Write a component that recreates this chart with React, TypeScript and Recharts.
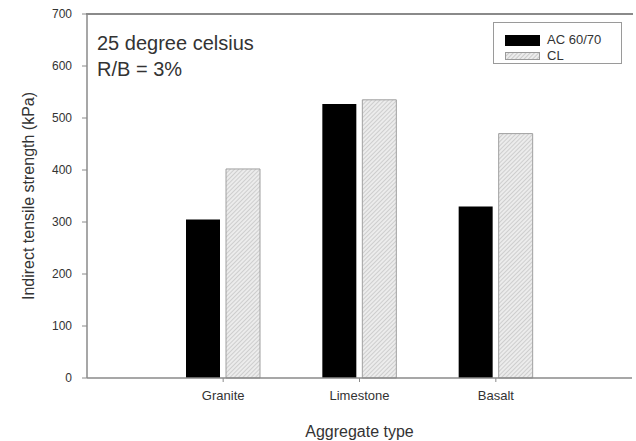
import React from 'react';
import { BarChart, Bar, XAxis, YAxis } from 'recharts';

const categories = ['Granite', 'Limestone', 'Basalt'];
const acValues = [305, 527, 330];
const clValues = [402, 535, 470];
const yTicks = [0, 100, 200, 300, 400, 500, 600, 700];
const seriesNames = ['AC 60/70', 'CL'];

const data = categories.map((c, i) => ({ name: c, ac: acValues[i], cl: clValues[i] }));

const FONT = 'Liberation Sans, Arial, sans-serif';
const AXIS = '#8a8a8a';

const HatchSwatch = ({ w, h }: { w: number; h: number }) => (
  <svg width={w} height={h} style={{ display: 'block' }}>
    <defs>
      <pattern id="hatchLegend" patternUnits="userSpaceOnUse" width="3" height="3" patternTransform="rotate(45)">
        <rect width="3" height="3" fill="#ececec" />
        <line x1="0" y1="0" x2="0" y2="3" stroke="#a8a8a8" strokeWidth="1" />
      </pattern>
    </defs>
    <rect x={0.5} y={0.5} width={w - 1} height={h - 1} fill="url(#hatchLegend)" stroke="#9a9a9a" />
  </svg>
);

const LegendBox = () => (
  <div
    style={{
      position: 'absolute',
      left: 493,
      top: 22,
      width: 129,
      height: 42,
      border: '1.5px solid #9a9a9a',
      boxSizing: 'border-box',
      background: '#fff',
      fontFamily: FONT,
      fontSize: 13,
      color: '#333',
    }}
  >
    <div style={{ position: 'absolute', left: 11, top: 12, width: 35, height: 11, background: '#000' }} />
    <div style={{ position: 'absolute', left: 53, top: 9, lineHeight: '15px' }}>{seriesNames[0]}</div>
    <div style={{ position: 'absolute', left: 11, top: 29 }}>
      <HatchSwatch w={35} h={8} />
    </div>
    <div style={{ position: 'absolute', left: 53, top: 25, lineHeight: '15px' }}>{seriesNames[1]}</div>
  </div>
);

export default function App() {
  return (
    <div style={{ position: 'absolute', left: 0, top: 0, width: 636, height: 441, background: '#fff' }}>
      <BarChart
        width={636}
        height={441}
        data={data}
        margin={{ top: 14, right: 4, bottom: 0, left: 0 }}
        barSize={34}
        barGap={6}
      >
        <defs>
          <pattern id="hatch" patternUnits="userSpaceOnUse" width="3" height="3" patternTransform="rotate(45)">
            <rect width="3" height="3" fill="#ececec" />
            <line x1="0" y1="0" x2="0" y2="3" stroke="#b0b0b0" strokeWidth="1" />
          </pattern>
        </defs>
        <XAxis
          dataKey="name"
          type="category"
          padding={{ left: 68, right: 68 }}
          height={63}
          tickSize={4}
          tickMargin={9}
          tick={{ fontSize: 13, fill: '#333', fontFamily: FONT }}
          axisLine={{ stroke: AXIS, strokeWidth: 1.5 }}
          tickLine={{ stroke: AXIS }}
          label={{ value: 'Aggregate type', position: 'insideBottom', offset: 4, fontSize: 16, fill: '#333', fontFamily: FONT }}
        />
        <YAxis
          type="number"
          domain={[0, 700]}
          ticks={yTicks}
          width={87}
          tickSize={5}
          tickMargin={10}
          tick={{ fontSize: 12, fill: '#333', fontFamily: FONT }}
          axisLine={{ stroke: AXIS, strokeWidth: 1.5 }}
          tickLine={{ stroke: AXIS }}
          label={{
            value: 'Indirect tensile strength (kPa)',
            angle: -90,
            position: 'insideLeft',
            offset: 28,
            fontSize: 16,
            fill: '#333',
            fontFamily: FONT,
            style: { textAnchor: 'middle' },
          }}
        />
        <YAxis
          yAxisId="right"
          orientation="right"
          domain={[0, 700]}
          width={0}
          tick={false}
          tickLine={false}
          axisLine={{ stroke: AXIS, strokeWidth: 1.5 }}
        />
        <Bar dataKey="ac" name={seriesNames[0]} fill="#000" isAnimationActive={false} />
        <Bar dataKey="cl" name={seriesNames[1]} fill="url(#hatch)" stroke="#a0a0a0" strokeWidth={1} isAnimationActive={false} />
      </BarChart>
      <div
        style={{
          position: 'absolute',
          left: 86,
          top: 13,
          width: 547,
          height: 0,
          borderTop: '2px solid #8a8a8a',
          zIndex: 5,
        }}
      />
      <LegendBox />
      <div
        style={{
          position: 'absolute',
          left: 97,
          top: 30,
          fontFamily: FONT,
          fontSize: 20,
          lineHeight: '26px',
          color: '#333',
        }}
      >
        <div>25 degree celsius</div>
        <div>R/B = 3%</div>
      </div>
    </div>
  );
}
